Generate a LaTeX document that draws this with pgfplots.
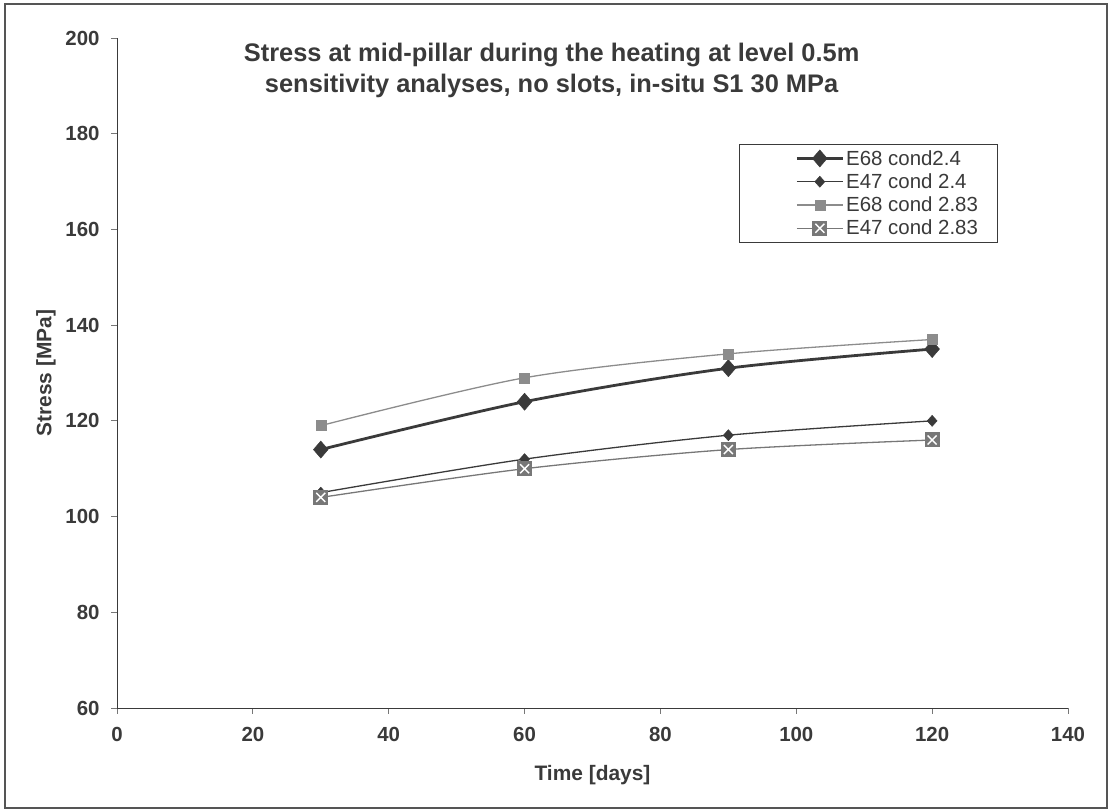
\documentclass[border=0pt]{standalone}
\usepackage{pgfplots}
\pgfplotsset{compat=1.18}
\usepackage{fontspec}
\setmainfont{Liberation Sans}
\definecolor{dk}{HTML}{3A3A3A}
\definecolor{lg}{HTML}{8C8C8C}
\definecolor{mg}{HTML}{777777}
\definecolor{frame}{HTML}{555555}
\pgfdeclareplotmark{sqx}{%
  \pgfpathrectangle{\pgfpoint{-\pgfplotmarksize}{-\pgfplotmarksize}}{\pgfpoint{2\pgfplotmarksize}{2\pgfplotmarksize}}%
  \pgfusepathqfill
  \pgfsetstrokecolor{white}\pgfsetlinewidth{1.4pt}%
  \pgfpathmoveto{\pgfpoint{-0.6\pgfplotmarksize}{-0.6\pgfplotmarksize}}%
  \pgfpathlineto{\pgfpoint{0.6\pgfplotmarksize}{0.6\pgfplotmarksize}}%
  \pgfpathmoveto{\pgfpoint{-0.6\pgfplotmarksize}{0.6\pgfplotmarksize}}%
  \pgfpathlineto{\pgfpoint{0.6\pgfplotmarksize}{-0.6\pgfplotmarksize}}%
  \pgfusepathqstroke}
\begin{document}
\begin{tikzpicture}
\path[use as bounding box] (0,0) rectangle (1112bp,812bp);
\draw[frame, line width=1.8bp] (5bp,4bp) rectangle (1107bp,808bp);
\begin{axis}[
  scale only axis, width=951bp, height=670bp,
  at={(117bp,104bp)}, anchor=south west,
  xmin=0, xmax=140, ymin=60, ymax=200,
  xtick={0,20,...,140}, ytick={60,80,...,200},
  axis x line*=bottom, axis y line*=left,
  axis line style={dk, line width=0.9bp, -},
  tick align=outside, major tick length=6bp,
  tick style={mg, line width=0.9bp},
  tick label style={font=\fontsize{20.5}{24}\selectfont\bfseries, text=dk},
  xticklabel style={yshift=-10bp},
  yticklabel style={xshift=-8bp},
  /pgf/number format/assume math mode=true,
  xlabel={Time [days]}, ylabel={Stress [MPa]},
  label style={font=\fontsize{21}{24}\selectfont\bfseries, text=dk},
  x label style={at={([yshift=-67bp]axis description cs:0.5,0)}, anchor=center},
  y label style={at={([xshift=-71bp]axis description cs:0,0.5)}, anchor=center},
  title={Stress at mid-pillar during the heating at level 0.5m\\sensitivity analyses, no slots, in-situ S1 30 MPa},
  title style={font=\fontsize{25.5}{31}\selectfont\bfseries, text=dk, align=center, inner sep=0pt,
    at={([yshift=-11bp]axis description cs:0.457,1)}, anchor=north},
  legend style={at={(0.654,0.842)}, anchor=north west, draw=dk, line width=0.9bp,
    font=\fontsize{20.5}{24}\selectfont, text=dk, inner xsep=4bp, inner ysep=4bp, row sep=3bp,
    cells={anchor=west, inner xsep=2bp}},
  legend cell align=left,
  legend image code/.code={%
    \path (-52bp,0bp) (0bp,0bp);
    \draw[mark repeat=2,mark phase=2] plot coordinates {(0bp,0bp) (23bp,0bp) (46bp,0bp)};},
]
\addplot[dk, line width=2.8bp, smooth, mark=diamond*, mark size=8.5bp, mark options={fill=dk, line width=0.5bp, xscale=1.15}]
  coordinates {(30,114) (60,124) (90,131) (120,135)};
\addlegendentry{E68 cond2.4}
\addplot[dk, line width=1.3bp, smooth, mark=diamond*, mark size=5.5bp, mark options={fill=dk, line width=0.5bp, xscale=1.2}]
  coordinates {(30,105) (60,112) (90,117) (120,120)};
\addlegendentry{E47 cond 2.4}
\addplot[lg, line width=1.3bp, smooth, mark=square*, mark size=5bp, mark options={fill=lg, line width=0.3bp}]
  coordinates {(30,119) (60,129) (90,134) (120,137)};
\addlegendentry{E68 cond 2.83}
\addplot[mg, line width=1.3bp, smooth, mark=sqx, mark size=7.5bp, mark options={fill=mg}]
  coordinates {(30,104) (60,110) (90,114) (120,116)};
\addlegendentry{E47 cond 2.83\hspace*{14bp}}
\end{axis}
\end{tikzpicture}
\end{document}
